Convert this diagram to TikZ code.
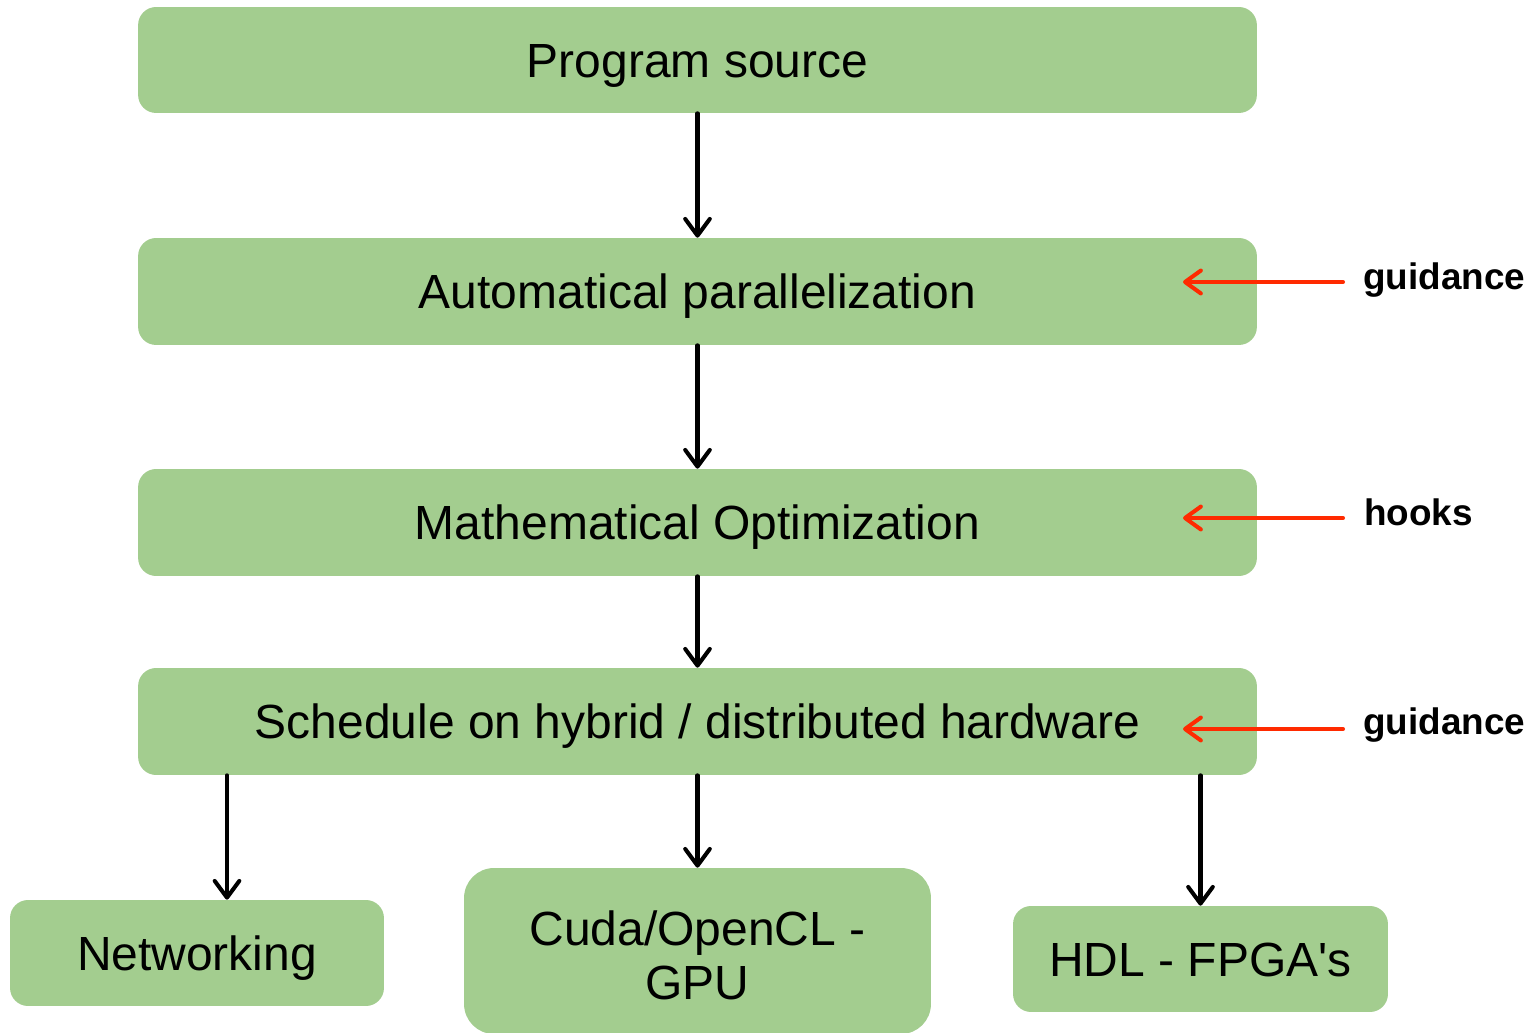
\documentclass[tikz,border=0pt]{standalone}
\usepackage{fontspec}
\newfontfamily\arialf{Liberation Sans}
\setmainfont{Liberation Sans}
\usetikzlibrary{arrows.meta}
\definecolor{boxgreen}{HTML}{A3CD8F}
\definecolor{guidered}{HTML}{FF2A00}
\begin{document}
\begin{tikzpicture}[x=0.02cm,y=-0.02cm,
  box/.style={fill=boxgreen, draw=none, rounded corners=0.36cm, align=center,
    inner sep=0pt, font=\arialf\fontsize{27.3}{31}\selectfont, text=black},
  onel/.style={text height=19.6pt, text depth=0pt},
  arr/.style={draw=black, line width=2.3pt, line cap=round,
    -{Straight Barb[length=9.5pt,width=14pt,line cap=round,line join=round]}},
  redarr/.style={draw=guidered, line width=2.3pt, line cap=round,
    -{Straight Barb[length=9pt,width=13pt,line cap=round,line join=round]}},
  lbl/.style={font=\arialf\bfseries\fontsize{21}{25}\selectfont, anchor=west, inner sep=0pt}]
\useasboundingbox (0,0) rectangle (1532,1033);
\node[box, onel, minimum width=22.38cm, minimum height=2.12cm] (ps) at (697.5,60) {Program source};
\node[box, onel, minimum width=22.38cm, minimum height=2.14cm] (ap) at (697.5,291.5) {Automatical parallelization};
\node[box, onel, minimum width=22.38cm, minimum height=2.14cm] (mo) at (697.5,522.5) {Mathematical Optimization};
\node[box, onel, minimum width=22.38cm, minimum height=2.14cm] (sh) at (697.5,721.5) {Schedule on hybrid / distributed hardware};
\node[box, onel, minimum width=7.48cm, minimum height=2.12cm] (net) at (197,953) {Networking};
\node[box, minimum width=9.34cm, minimum height=3.32cm, rounded corners=0.6cm] (gpu) at (697.5,951) {\raisebox{0pt}[25pt][0pt]{Cuda/OpenCL -}\\GPU};
\node[box, onel, minimum width=7.5cm, minimum height=2.12cm] (hdl) at (1200.5,959) {HDL - FPGA's};

\draw[arr] (ps.south) -- (ap.north);
\draw[arr] (ap.south) -- (mo.north);
\draw[arr] (mo.south) -- (sh.north);
\coordinate (nx) at (227,0);
\draw[arr] (sh.south -| nx) -- (net.north -| nx);
\draw[arr] (sh.south) -- (gpu.north);
\draw[arr] (sh.south -| hdl.north) -- (hdl.north);

\node[lbl] (g1) at (1363,280) {guidance};
\node[lbl] (hk) at (1364,512) {hooks};
\node[lbl] (g2) at (1363,725) {guidance};
\coordinate (r1s) at (1343,282); \coordinate (r1e) at (1183,282);
\coordinate (r2s) at (1343,518); \coordinate (r2e) at (1183,518);
\coordinate (r3s) at (1343,729); \coordinate (r3e) at (1183,729);
\draw[redarr] (r1s) -- (r1e);
\draw[redarr] (r2s) -- (r2e);
\draw[redarr] (r3s) -- (r3e);
\end{tikzpicture}
\end{document}
